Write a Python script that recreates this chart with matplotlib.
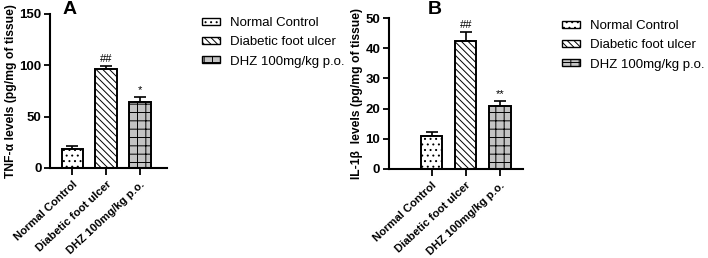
import matplotlib.pyplot as plt
import numpy as np

plt.rcParams['font.family'] = ['Liberation Sans', 'DejaVu Sans']
plt.rcParams['hatch.linewidth'] = 0.7

groups = ['Normal Control', 'Diabetic foot ulcer', 'DHZ 100mg/kg p.o.']

tnf_mean = [18, 96.5, 64.5]
tnf_err = [3, 3, 5]
tnf_marks = ['', '##', '*']

il_mean = [11, 42.3, 21]
il_err = [1.2, 3.2, 1.6]
il_marks = ['', '##', '**']

hatches = ['...', '\\\\\\\\\\', '++']
faces = ['white', 'white', '#c4c4c4']

fig = plt.figure(figsize=(7.08, 2.58), dpi=100)


def panel(rect, means, errs, marks, ylim, yticks, xlim, ylabel, letter, letter_xy, leg_pos):
    ax = fig.add_axes(rect)
    x = np.arange(len(groups))
    ax.bar(x, means, width=0.62, color=faces, edgecolor='black',
           linewidth=1.4, hatch=hatches, zorder=2)
    ax.errorbar(x, means, yerr=[np.zeros(3), errs], fmt='none', ecolor='black',
                elinewidth=1.2, capsize=4, capthick=1.2, zorder=1)
    off = ylim[1] * 0.01
    for xi, m, e, s in zip(x, means, errs, marks):
        if s:
            ax.text(xi, m + e + off, s, ha='center', va='bottom', fontsize=8)
    ax.set_ylim(*ylim)
    ax.set_xlim(*xlim)
    ax.set_yticks(yticks)
    ax.set_xticks(x)
    ax.set_xticklabels(groups, rotation=43, ha='right', rotation_mode='anchor',
                       fontsize=8.1, fontweight='bold')
    for t in ax.get_yticklabels():
        t.set_fontweight('bold')
        t.set_fontsize(9.5)
    ax.tick_params(axis='both', width=1.3, length=4, direction='out', pad=2)
    ax.tick_params(axis='x', length=5, pad=3)
    for s in ['top', 'right']:
        ax.spines[s].set_visible(False)
    for s in ['left', 'bottom']:
        ax.spines[s].set_linewidth(1.5)
    ax.set_ylabel(ylabel, fontsize=8.7, fontweight='bold', labelpad=2)
    fig.text(letter_xy[0] / 708, 1 - letter_xy[1] / 258, letter, fontsize=14,
             fontweight='bold', ha='center', va='center')
    handles = [plt.Rectangle((0, 0), 1, 1, facecolor=f, edgecolor='black',
                             hatch=h, linewidth=1.0) for f, h in zip(faces, hatches)]
    fig.legend(handles, groups, loc='upper left', bbox_to_anchor=leg_pos,
               frameon=False, fontsize=9.5, handlelength=1.36, handleheight=0.45,
               labelspacing=0.55, handletextpad=0.75, borderpad=0, borderaxespad=0)
    return ax


panel([0.0706, 0.349, 0.165, 0.597], tnf_mean, tnf_err, tnf_marks, (0, 150),
      [0, 50, 100, 150], (-0.65, 2.79), 'TNF-α levels (pg/mg of tissue)',
      'A', (70, 10), (202 / 708, 0.934))
panel([0.549, 0.345, 0.19, 0.585], il_mean, il_err, il_marks, (0, 50),
      [0, 10, 20, 30, 40, 50], (-1.26, 2.68), 'IL-1β  levels (pg/mg of tissue)',
      'B', (435, 10), (562 / 708, 0.922))

fig.savefig('out.png', dpi=100)
